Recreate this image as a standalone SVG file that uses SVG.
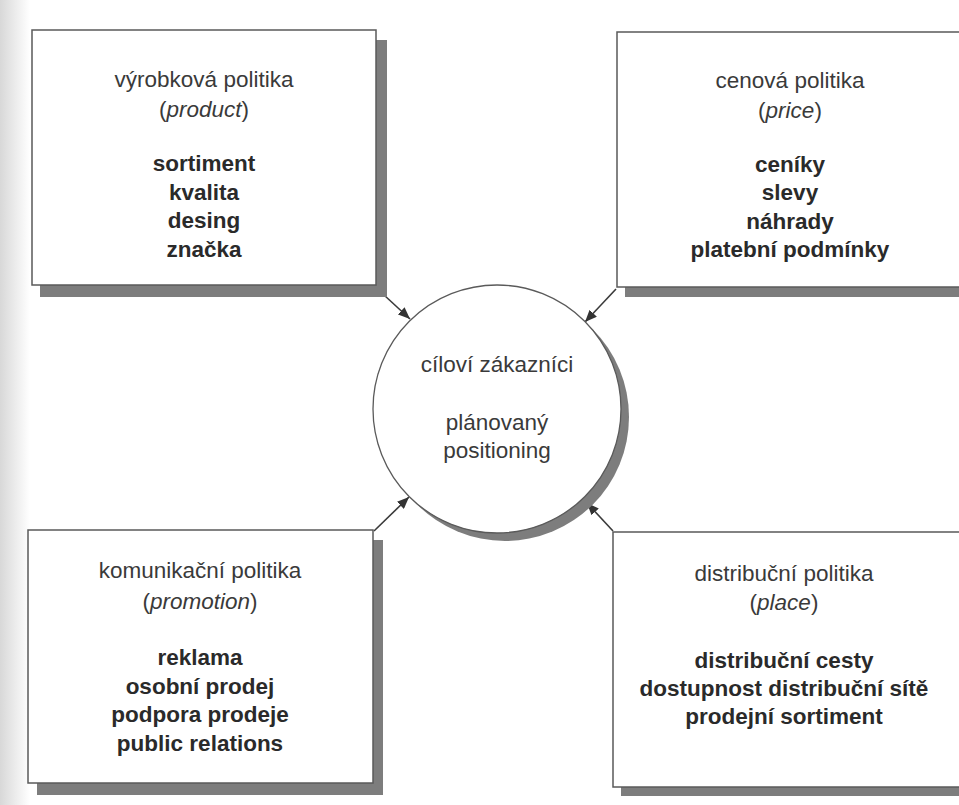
<svg xmlns="http://www.w3.org/2000/svg" width="959" height="805" viewBox="0 0 959 805">
<defs>
<style>
.box{fill:#fff;stroke:#5a5a5a;stroke-width:1.5}
.shadow{fill:#7d7d7d}
.t{font-family:"Liberation Sans",Arial,sans-serif;font-size:22.5px;fill:#3a3a3a;text-anchor:middle}
.b{font-weight:bold;fill:#2a2a2a}
.i{font-style:italic}
.conn{stroke:#3a3a3a;stroke-width:1.6;fill:none}
</style>
<marker id="ah" viewBox="0 0 12 10" refX="12" refY="5" markerWidth="12" markerHeight="10" markerUnits="userSpaceOnUse" orient="auto">
<path d="M0,0 L12,5 L0,10 z" fill="#333"/>
</marker>
<linearGradient id="edge" x1="0" y1="0" x2="1" y2="0">
<stop offset="0" stop-color="#d8d8d8"/>
<stop offset="1" stop-color="#ffffff"/>
</linearGradient>
</defs>
<rect x="0" y="0" width="959" height="805" fill="#fff"/>
<rect x="0" y="0" width="30" height="805" fill="url(#edge)"/>

<g id="connectors">
<line class="conn" x1="384" y1="295" x2="410" y2="319" marker-end="url(#ah)"/>
<line class="conn" x1="616" y1="289" x2="585" y2="322" marker-end="url(#ah)"/>
<line class="conn" x1="374" y1="531" x2="409" y2="497" marker-end="url(#ah)"/>
<line class="conn" x1="613" y1="531" x2="587" y2="503" marker-end="url(#ah)"/>
</g>

<g id="product">
<rect class="shadow" x="40" y="40" width="347" height="257"/>
<rect class="box" x="32" y="30" width="344" height="255"/>
<text class="t" x="204" y="87">výrobková politika</text>
<text class="t" x="204" y="117">(<tspan class="i">product</tspan>)</text>
<text class="t b" x="204" y="171">sortiment</text>
<text class="t b" x="204" y="200">kvalita</text>
<text class="t b" x="204" y="228">desing</text>
<text class="t b" x="204" y="257">značka</text>
</g>

<g id="price">
<rect class="shadow" x="625" y="287" width="334" height="10"/>
<rect class="box" x="617" y="32" width="350" height="255"/>
<text class="t" x="790" y="88">cenová politika</text>
<text class="t" x="790" y="118">(<tspan class="i">price</tspan>)</text>
<text class="t b" x="790" y="172">ceníky</text>
<text class="t b" x="790" y="200">slevy</text>
<text class="t b" x="790" y="229">náhrady</text>
<text class="t b" x="790" y="257">platební podmínky</text>
</g>

<g id="promotion">
<rect class="shadow" x="37" y="540" width="346" height="255"/>
<rect class="box" x="28" y="530" width="345" height="253"/>
<text class="t" x="200" y="578">komunikační politika</text>
<text class="t" x="200" y="609">(<tspan class="i">promotion</tspan>)</text>
<text class="t b" x="200" y="665">reklama</text>
<text class="t b" x="200" y="694">osobní prodej</text>
<text class="t b" x="200" y="722">podpora prodeje</text>
<text class="t b" x="200" y="751">public relations</text>
</g>

<g id="place">
<rect class="shadow" x="621" y="787" width="338" height="9"/>
<rect class="box" x="613" y="532" width="354" height="255"/>
<text class="t" x="784" y="581">distribuční politika</text>
<text class="t" x="784" y="610">(<tspan class="i">place</tspan>)</text>
<text class="t b" x="784" y="668">distribuční cesty</text>
<text class="t b" x="784" y="696">dostupnost distribuční sítě</text>
<text class="t b" x="784" y="724">prodejní sortiment</text>
</g>

<g id="target">
<circle cx="505" cy="417" r="124" fill="#7d7d7d"/>
<circle cx="497" cy="409" r="124" fill="#fff" stroke="#5a5a5a" stroke-width="1.3"/>
<text class="t" x="497" y="372">cíloví zákazníci</text>
<text class="t" x="497" y="430">plánovaný</text>
<text class="t" x="497" y="458">positioning</text>
</g>
</svg>
